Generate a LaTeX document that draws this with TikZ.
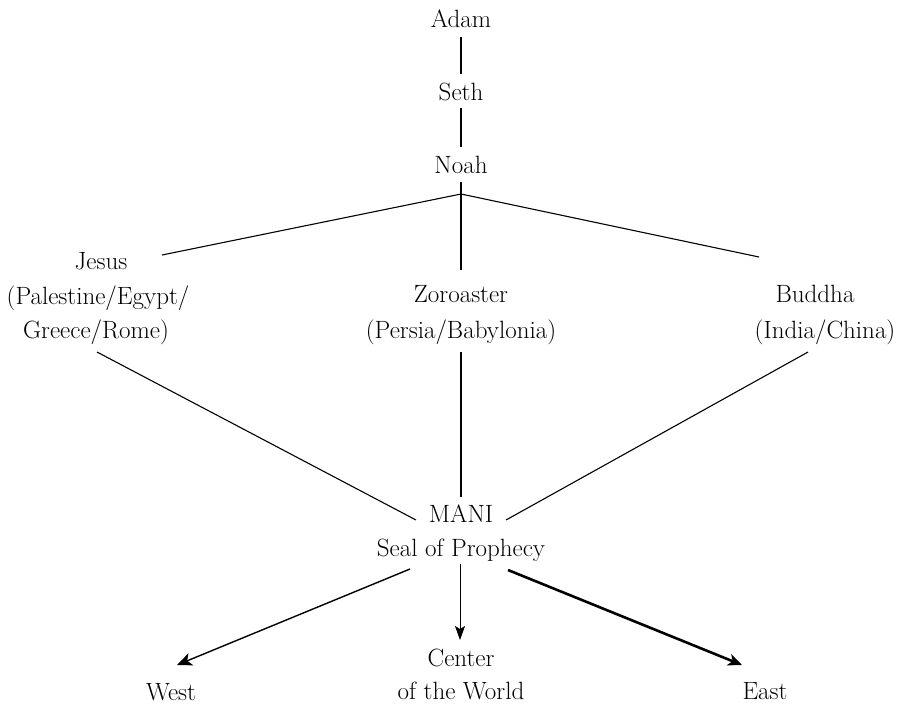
\documentclass[tikz,border=0pt]{standalone}
\usetikzlibrary{arrows.meta}
\begin{document}
\begin{tikzpicture}[x=1pt,y=-1pt,
  lbl/.style={inner sep=0pt,anchor=base,font=\fontsize{25}{34}\selectfont,align=center},
  conn/.style={line width=1.1pt},
  arr/.style={line width=1.4pt,-{Stealth[length=15pt,width=13pt,inset=4pt]}},
  thinarr/.style={line width=0.8pt,-{Stealth[length=14pt,width=10pt,inset=3pt]}},
  thickarr/.style={line width=2.6pt,-{Stealth[length=14pt,width=12pt,inset=4pt]}}]
\useasboundingbox (0,0) rectangle (901,705);
\node[lbl] (adam) at (461,27) {Adam};
\node[lbl] (seth) at (461,100) {Seth};
\node[lbl] (noah) at (461,173) {Noah};
\node[lbl] (jesus) at (101,269) {Jesus};
\node[lbl] (jesus2) at (98,304) {(Palestine/Egypt/};
\node[lbl] (jesus3) at (96,338) {Greece/Rome)};
\node[lbl] (zoro) at (461,302) {Zoroaster};
\node[lbl] (zoro2) at (461,338) {(Persia/Babylonia)};
\node[lbl] (buddha) at (815,302) {Buddha};
\node[lbl] (buddha2) at (825,338) {(India/China)};
\node[lbl] (mani) at (461,522) {MANI};
\node[lbl] (seal) at (461,556) {Seal of Prophecy};
\node[lbl] (west) at (171,700) {West};
\node[lbl] (center) at (461,666) {Center};
\node[lbl] (world) at (461,699) {of the World};
\node[lbl] (east) at (765,699) {East};
\coordinate (a1) at (461,37);  \coordinate (a2) at (461,74);
\coordinate (s1) at (461,108); \coordinate (s2) at (461,147);
\coordinate (nb) at (461,182);
\coordinate (jn) at (461,194);
\coordinate (jt) at (162,255);
\coordinate (bt) at (759,257);
\coordinate (zt) at (461,270);
\coordinate (jb) at (97,352);
\coordinate (zb) at (461,352);
\coordinate (bb) at (808,352);
\coordinate (mj) at (416,520);
\coordinate (mz) at (461,497);
\coordinate (mb) at (506,520);
\coordinate (ws) at (410,569);
\coordinate (we) at (177,665);
\coordinate (cs) at (460,564);
\coordinate (ce) at (460,640);
\coordinate (es) at (508,570);
\coordinate (ee) at (742,665);
\draw[conn] (a1) -- (a2);
\draw[conn] (s1) -- (s2);
\draw[conn] (nb) -- (zt);
\draw[conn] (jn) -- (jt);
\draw[conn] (jn) -- (bt);
\draw[conn] (jb) -- (mj);
\draw[conn] (zb) -- (mz);
\draw[conn] (bb) -- (mb);
\draw[arr] (ws) -- (we);
\draw[thinarr] (cs) -- (ce);
\draw[thickarr] (es) -- (ee);
\end{tikzpicture}
\end{document}
